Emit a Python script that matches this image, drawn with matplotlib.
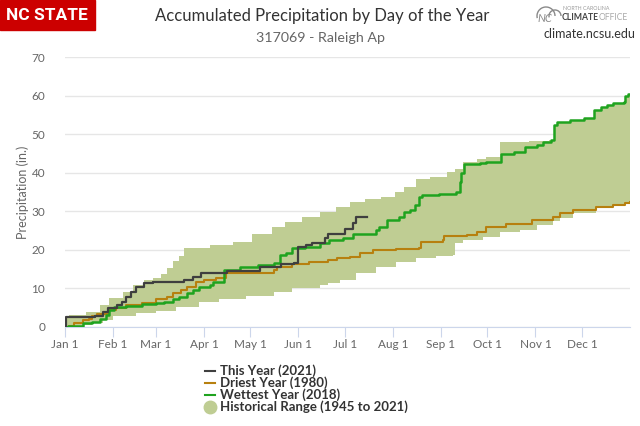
import numpy as np
import matplotlib
matplotlib.use("Agg")
import matplotlib.pyplot as plt
from matplotlib.lines import Line2D
from matplotlib.patches import Rectangle, Arc

plt.rcParams["font.family"] = ["Lato", "DejaVu Sans"]

# ------------------------------
# data (day of year, accumulated inches) - step values
# ------------------------------
month_days = [0, 31, 59, 90, 120, 151, 181, 212, 243, 273, 304, 334]
month_labels = ["Jan 1", "Feb 1", "Mar 1", "Apr 1", "May 1", "Jun 1",
                "Jul 1", "Aug 1", "Sep 1", "Oct 1", "Nov 1", "Dec 1"]

this_year_days = [0, 1, 20, 25, 28, 34, 37, 40, 43, 46, 51, 57, 77, 83, 88,
                  105, 126, 140, 148, 151, 156, 160, 168, 170, 181, 186, 188, 195]
this_year_vals = [0.0, 2.4, 2.9, 3.9, 4.8, 5.6, 6.5, 7.8, 9.1, 10.4, 11.3, 11.7, 12.1, 13.0, 13.9,
                  14.5, 15.6, 16.2, 16.6, 20.6, 21.2, 21.7, 23.0, 24.2, 25.5, 26.9, 28.5, 28.5]

driest_days = [0, 3, 6, 12, 16, 18, 21, 29, 33, 40, 50, 59, 66, 70, 75, 79, 85, 90, 98, 104,
               135, 137, 147, 158, 170, 176, 184, 191, 199, 214, 229, 230, 244, 245, 260, 266,
               272, 285, 302, 315, 320, 328, 343, 354, 362, 365]
driest_vals = [0.0, 0.3, 1.0, 1.7, 2.1, 2.8, 3.3, 4.3, 4.8, 5.6, 6.1, 7.1, 7.6, 8.7, 9.5, 10.4,
               11.7, 12.1, 12.6, 13.9, 14.7, 15.6, 16.3, 16.9, 17.3, 17.8, 18.2, 19.1, 19.9, 20.2,
               20.4, 22.1, 22.4, 23.6, 23.9, 24.7, 26.0, 26.8, 27.7, 28.6, 29.5, 30.3, 31.2, 31.6,
               32.2, 32.3]

wettest_days = [0, 2, 12, 18, 23, 27, 29, 32, 40, 50, 59, 64, 70, 74, 79, 83, 87, 94, 96, 103,
                113, 125, 135, 139, 143, 147, 155, 165, 171, 180, 186, 201, 203, 208, 216, 219,
                223, 226, 229, 231, 242, 253, 255, 256, 258, 268, 272, 282, 290, 297, 305, 309,
                314, 316, 318, 326, 335, 342, 346, 350, 354, 361, 362, 364, 365]
wettest_vals = [0.0, 0.2, 0.9, 1.3, 1.9, 3.0, 4.3, 5.0, 5.4, 5.8, 6.2, 6.5, 7.1, 7.8, 8.7, 9.5,
                10.4, 10.8, 11.7, 14.7, 15.6, 16.0, 16.6, 18.6, 19.2, 20.4, 20.8, 21.7, 22.5, 23.0,
                24.2, 25.1, 26.0, 27.7, 28.6, 29.9, 30.3, 31.5, 33.8, 34.2, 34.6, 35.0, 37.5, 40.0,
                42.2, 42.5, 42.8, 45.0, 45.3, 46.8, 47.2, 48.1, 48.5, 52.4, 53.2, 53.7, 54.1, 56.3,
                57.0, 57.6, 58.2, 58.4, 59.9, 60.4, 60.4]

range_hi_days = [0, 3, 14, 23, 29, 38, 44, 51, 57, 62, 66, 70, 74, 77, 94, 109, 121, 134, 142,
                 153, 165, 175, 184, 194, 204, 213, 219, 227, 236, 247, 252, 257, 266, 272, 281,
                 300, 313, 316, 318, 326, 335, 342, 346, 350, 354, 361, 362, 364, 365]
range_hi_vals = [2.4, 3.0, 3.9, 5.6, 7.4, 9.1, 10.8, 12.1, 12.6, 13.6, 15.2, 17.0, 18.5, 20.4,
                 21.2, 22.1, 24.2, 26.0, 27.3, 28.6, 29.9, 31.0, 32.5, 33.2, 33.8, 35.0, 36.4,
                 38.5, 39.0, 40.3, 41.1, 42.9, 43.5, 44.2, 48.0, 48.3, 48.5, 52.4, 53.2, 53.7,
                 54.1, 56.3, 57.0, 57.6, 58.2, 58.4, 59.9, 60.4, 60.4]

range_lo_days = [0, 12, 18, 25, 31, 46, 59, 72, 87, 100, 117, 135, 147, 165, 170, 178, 188, 201,
                 214, 227, 240, 251, 252, 257, 270, 281, 294, 305, 315, 320, 328, 343, 354, 362,
                 365]
range_lo_vals = [0.0, 0.5, 1.0, 1.8, 2.8, 3.5, 4.2, 5.2, 6.5, 7.1, 8.0, 9.1, 10.0, 10.8, 11.3,
                 12.1, 13.9, 15.6, 16.9, 17.8, 18.3, 18.6, 21.7, 22.5, 23.4, 24.7, 25.1, 26.4,
                 27.5, 28.2, 29.5, 31.2, 31.6, 32.2, 32.3]

C_THIS = "#3f3f3f"
C_DRY = "#b7800f"
C_WET = "#1fa31f"
C_RANGE = "#bfcd93"
C_TEXT = "#333333"
C_LABEL = "#666666"


def step_lookup(days, vals, grid):
    # value of a step series (held until next knot) at each grid day
    idx = np.searchsorted(days, grid, side="right") - 1
    return np.asarray(vals)[idx]


# ------------------------------
# figure
# ------------------------------
fig = plt.figure(figsize=(6.4, 4.26), dpi=100)
ax = fig.add_axes([64.5 / 640, 1 - 326.7 / 426, 565.5 / 640, 269.4 / 426])

grid = np.union1d(range_hi_days, range_lo_days)
ax.fill_between(grid, step_lookup(range_lo_days, range_lo_vals, grid),
                step_lookup(range_hi_days, range_hi_vals, grid),
                step="post", color=C_RANGE, lw=0, zorder=1)

ax.plot(driest_days, driest_vals, drawstyle="steps-post", color=C_DRY, lw=1.5, zorder=3)
ax.plot(wettest_days, wettest_vals, drawstyle="steps-post", color=C_WET, lw=1.8, zorder=4)
ax.plot(this_year_days, this_year_vals, drawstyle="steps-post", color=C_THIS, lw=1.6, zorder=5)

ax.set_xlim(0, 365)
ax.set_ylim(0, 70)
ax.set_yticks(range(0, 71, 10))
ax.set_xticks(month_days)
ax.set_xticklabels(month_labels)
ax.yaxis.grid(True, color="#e6e6e6", lw=1)
ax.set_axisbelow(True)
for s in ["top", "right", "left"]:
    ax.spines[s].set_visible(False)
ax.spines["bottom"].set_color("#ccd6eb")
ax.tick_params(axis="y", length=0, pad=14, labelsize=8.5, labelcolor=C_LABEL)
ax.tick_params(axis="x", length=7, color="#ccd6eb", pad=2, labelsize=8.5, labelcolor=C_LABEL)
ax.set_ylabel("Precipitation (in.)", fontsize=9, color=C_LABEL, labelpad=2)

# ------------------------------
# header
# ------------------------------
fig.patches.append(Rectangle((0, 1 - 30 / 426), 95 / 640, 30 / 426,
                             transform=fig.transFigure, color="#cc0000", zorder=0))
fig.text(47 / 640, 1 - 15 / 426, "NC STATE", color="white", fontsize=12.5,
         fontweight="bold", family="Roboto", ha="center", va="center")
fig.text(322 / 640, 1 - 16 / 426, "Accumulated Precipitation by Day of the Year",
         color=C_TEXT, fontsize=12, ha="center", va="center")
fig.text(320 / 640, 1 - 38 / 426, "317069 - Raleigh Ap", color=C_LABEL, fontsize=10.3,
         ha="center", va="center")

# climate office logo (simplified)
for cx, r in [(546, 9), (555, 6)]:
    fig.patches.append(Arc((cx / 640, 1 - 16 / 426), 2 * r / 640, 2 * r / 426, theta1=0,
                           theta2=200, transform=fig.transFigure, color="#8a8a8a", lw=1))
fig.text(545 / 640, 1 - 19 / 426, "NC", color="#8a8a8a", fontsize=8, ha="center",
         va="center", style="italic")
fig.text(563 / 640, 1 - 8 / 426, "NORTH CAROLINA", color="#9a9a9a", fontsize=3.8,
         ha="left", va="center")
fig.text(562 / 640, 1 - 18 / 426, "CLIMATE", color="#444444", fontsize=6.2,
         fontweight="bold", ha="left", va="center")
fig.text(599 / 640, 1 - 18 / 426, "OFFICE", color="#aaaaaa", fontsize=6.2,
         ha="left", va="center")
fig.text(589 / 640, 1 - 34 / 426, "climate.ncsu.edu", color=C_TEXT, fontsize=9,
         ha="center", va="center")

# ------------------------------
# legend
# ------------------------------
handles = [
    Line2D([], [], color=C_THIS, lw=1.5),
    Line2D([], [], color=C_DRY, lw=1.5),
    Line2D([], [], color=C_WET, lw=1.5),
    Line2D([], [], color=C_RANGE, marker="o", markersize=9, lw=0),
]
labels = ["This Year (2021)", "Driest Year (1980)", "Wettest Year (2018)",
          "Historical Range (1945 to 2021)"]
leg = fig.legend(handles, labels, loc="upper left", bbox_to_anchor=(198 / 640, 1 - 358 / 426),
                 frameon=False, handlelength=0.8, handletextpad=0.4,
                 labelspacing=-0.05, borderpad=0, prop={"weight": "bold", "size": 9.5})
for t in leg.get_texts():
    t.set_color(C_TEXT)

fig.savefig("out.png", dpi=100)
